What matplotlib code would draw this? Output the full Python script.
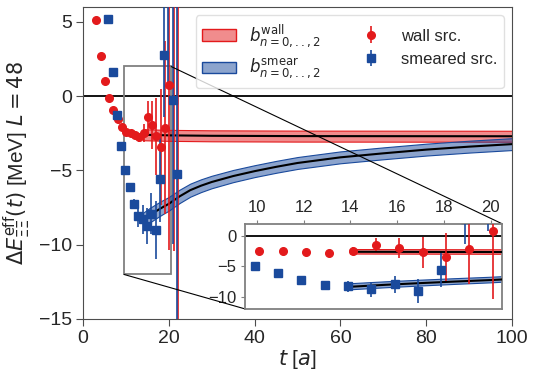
import matplotlib
matplotlib.use("Agg")
import matplotlib.pyplot as plt
import seaborn as sns
from matplotlib.patches import Patch
from mpl_toolkits.axes_grid1.inset_locator import mark_inset

# effective energy shift, wall source
t_wall = [3, 4, 5, 6, 7, 8, 9, 10, 11, 12, 13, 14, 15, 16, 17, 18, 19, 20, 21, 22]
E_wall = [5.16, 2.7, 0.99, -0.15, -0.94, -1.55, -2.09, -2.44, -2.49, -2.6, -2.77,
          -2.49, -1.41, -1.95, -2.71, -3.42, -2.12, 0.77, 7.5, 25.0]
err_wall = [0.02, 0.02, 0.03, 0.04, 0.05, 0.06, 0.08, 0.1, 0.15, 0.2, 0.3,
            0.6, 1.1, 1.6, 2.58, 3.93, 5.8, 11.1, 17.9, 50.0]

# smeared source
t_smear = [6, 7, 8, 9, 10, 11, 12, 13, 14, 15, 16, 17, 18, 19, 20, 21, 22]
E_smear = [5.2, 1.6, -1.25, -3.34, -4.95, -6.13, -7.27, -8.1, -8.3, -8.74, -7.92,
           -9.0, -5.59, 2.76, 8.0, -0.27, -5.25]
err_smear = [0.05, 0.06, 0.08, 0.1, 0.2, 0.25, 0.35, 0.73, 0.95, 1.22, 1.38,
             1.95, 2.85, 4.15, 7.2, 9.7, 30.0]

# fit results (central value and half width of the band)
fit_t_wall = [14, 20, 30, 50, 100]
fit_wall = [-2.6, -2.64, -2.67, -2.69, -2.7]
fit_wall_err = [0.37, 0.37, 0.37, 0.37, 0.37]

fit_t_smear = [14, 15.5, 17, 18.5, 20, 22.5, 25, 27.5, 30, 35, 40, 45, 50, 60, 70, 80, 90, 100]
fit_smear = [-8.35, -8.03, -7.75, -7.49, -7.25, -6.75, -6.33, -6.03, -5.78, -5.38,
             -5.05, -4.76, -4.5, -4.12, -3.85, -3.6, -3.4, -3.23]
fit_smear_err = [0.5, 0.49, 0.48, 0.47, 0.46, 0.45, 0.44, 0.43, 0.42, 0.41, 0.4,
                 0.4, 0.4, 0.4, 0.4, 0.4, 0.4, 0.4]

red = "#e31a1c"
blue = "#1a4a9c"

sns.set_style("ticks")
plt.rcParams["font.family"] = ["Liberation Sans", "DejaVu Sans"]
plt.rcParams["mathtext.fontset"] = "dejavusans"


def draw(a):
    a.axhline(0, color="k", lw=1.3, zorder=1)
    lo = [m - e for m, e in zip(fit_wall, fit_wall_err)]
    hi = [m + e for m, e in zip(fit_wall, fit_wall_err)]
    a.fill_between(fit_t_wall, lo, hi, facecolor=(0.89, 0.1, 0.11, 0.5),
                   edgecolor=red, lw=0.8, zorder=2)
    lo = [m - e for m, e in zip(fit_smear, fit_smear_err)]
    hi = [m + e for m, e in zip(fit_smear, fit_smear_err)]
    a.fill_between(fit_t_smear, lo, hi, facecolor=(0.1, 0.29, 0.61, 0.5),
                   edgecolor=blue, lw=0.8, zorder=2)
    a.plot(fit_t_wall, fit_wall, color="k", lw=1.5, zorder=3)
    a.plot(fit_t_smear, fit_smear, color="k", lw=1.5, zorder=3)
    ew = a.errorbar([t + 0.1 for t in t_wall], E_wall, yerr=err_wall, fmt="o",
                    color=red, ms=5.5, elinewidth=1.2, capsize=0, zorder=4)
    es = a.errorbar([t - 0.1 for t in t_smear], E_smear, yerr=err_smear, fmt="s",
                    color=blue, ms=5.5, elinewidth=1.2, capsize=0, zorder=4)
    return ew, es


fig = plt.figure(figsize=(5.39, 3.70), dpi=100)
ax = fig.add_axes([0.154, 0.138, 0.796, 0.843])
ew, es = draw(ax)
ax.set_xlim(0, 100)
ax.set_ylim(-15, 6)
ax.set_xticks([0, 20, 40, 60, 80, 100])
ax.set_yticks([-15, -10, -5, 0, 5])
ax.tick_params(labelsize=14, length=5, color="0.3", pad=3)
for s in ax.spines.values():
    s.set_color("0.3")
ax.set_xlabel(r"$t$ [$a$]", fontsize=15, labelpad=1)
ax.set_ylabel(r"$\Delta E^{\rm eff}_{\Xi\Xi}(t)$ [MeV] $L=48$", fontsize=15)

handles = [Patch(facecolor=(0.89, 0.1, 0.11, 0.5), edgecolor=red),
           Patch(facecolor=(0.1, 0.29, 0.61, 0.5), edgecolor=blue),
           ew, es]
labels = [r"$b^{\rm wall}_{n=0,..,2}$", r"$b^{\rm smear}_{n=0,..,2}$",
          "wall src.", "smeared src."]
ax.legend(handles, labels, ncol=2, loc="upper right", fontsize=12,
          frameon=True, framealpha=0.8, edgecolor="0.85")

axins = ax.inset_axes([0.378, 0.032, 0.599, 0.273])
draw(axins)
axins.set_xlim(9.5, 20.5)
axins.set_ylim(-12, 2)
axins.set_xticks([10, 12, 14, 16, 18, 20])
axins.set_yticks([-10, -5, 0])
axins.xaxis.tick_top()
axins.tick_params(labelsize=12, length=3, color="0.5")
for s in axins.spines.values():
    s.set_color("0.5")
    s.set_linewidth(1.3)

patch, p1, p2 = mark_inset(ax, axins, loc1=1, loc2=3, fc="none", ec="0.5", lw=1.3)
p1.set_color("k")
p1.set_linewidth(0.8)
p2.set_color("k")
p2.set_linewidth(0.8)

fig.savefig("out.png", dpi=100)
